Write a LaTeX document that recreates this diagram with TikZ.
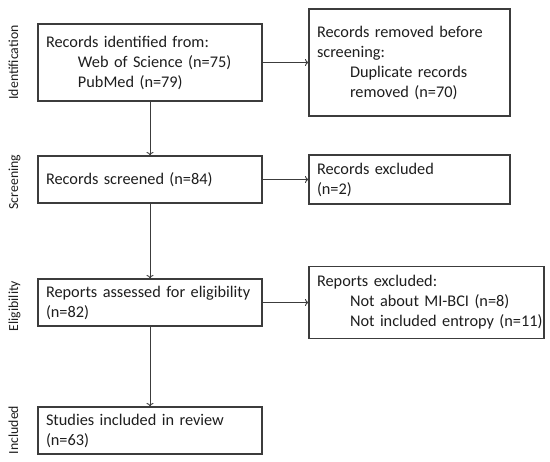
\documentclass[tikz,border=0pt]{standalone}
\usepackage{fontspec}
\setmainfont{Carlito}
\usetikzlibrary{arrows.meta}
\definecolor{linegray}{HTML}{3C3C3C}
\definecolor{txt}{HTML}{1E1E1E}
\tikzset{
  box/.style={draw=linegray, line width=1.1pt, text=txt, align=left,
    inner xsep=8pt, inner ysep=0pt, font=\fontsize{16.3}{20}\selectfont},
  mainbox/.style={box, text width=208pt, minimum width=224pt},
  phase/.style={rotate=90, anchor=base, text=txt, font=\fontsize{13.8}{16}\selectfont},
  flow/.style={draw=linegray, line width=0.9pt, -{To[length=3.5pt,width=7pt]}}
}
\begin{document}
\begin{tikzpicture}[x=1pt,y=-1pt]
\useasboundingbox (0,0) rectangle (550,462);
\fill[white] (0,0) rectangle (550,462);
% left column
\node[mainbox, minimum height=77pt] (b1) at (150,62.5)
  {Records identified from:\\\hspace*{32pt}Web of Science (n=75)\\\hspace*{32pt}PubMed (n=79)};
\node[mainbox, minimum height=47pt] (b2) at (150,179.5)
  {Records screened (n=84)};
\node[mainbox, minimum height=47pt] (b3) at (150,302.5)
  {Reports assessed for eligibility\\(n=82)};
\node[mainbox, minimum height=47pt] (b4) at (150,430.5)
  {Studies included in review\\(n=63)};
% right column
\node[box, text width=185pt, minimum width=201pt, minimum height=107pt] (r1) at (409.5,62.5)
  {Records removed before\\screening:\\\hspace*{33pt}Duplicate records\\\hspace*{33pt}removed (n=70)};
\node[box, text width=185pt, minimum width=201pt, minimum height=49pt] (r2) at (409.5,179.5)
  {Records excluded\\(n=2)};
\node[box, text width=219pt, minimum width=235pt, minimum height=72pt] (r3) at (426.5,302.5)
  {Reports excluded:\\\mbox{\hspace*{33pt}Not about MI-BCI (n=8)}\\\mbox{\hspace*{33pt}Not included entropy (n=11)}};
% phase labels
\node[phase] (p1) at (18,62.5) {Identification};
\node[phase] (p2) at (18,182) {Screening};
\node[phase] (p3) at (18,306) {Eligibility};
\node[phase] (p4) at (18,430) {Included};
% connectors
\draw[flow] (b1) -- (b2);
\draw[flow] (b2) -- (b3);
\draw[flow] (b3) -- (b4);
\draw[flow] (b1) -- (r1);
\draw[flow] (b2) -- (r2);
\draw[flow] (b3.east) -- (b3.east -| r3.west);
\end{tikzpicture}
\end{document}
